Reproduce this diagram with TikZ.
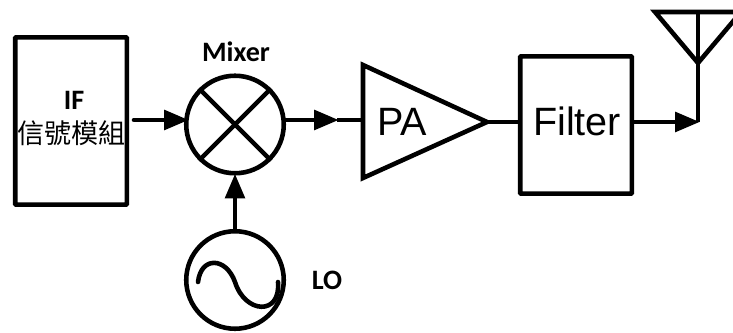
\documentclass[tikz,border=0pt]{standalone}
\usepackage{fontspec}
\setmainfont{Liberation Sans}
\newfontfamily\labelfont{Carlito}
\newfontfamily\cjkfont{Noto Sans CJK TC}
\usetikzlibrary{arrows.meta}
\tikzset{
    wire/.style={line width=2.6pt},
    sig/.style={wire,-{Triangle[length=14pt,width=11pt]},shorten >=-1pt},
    block/.style={draw,line width=2.6pt,rectangle,rounded corners=0.5pt,inner sep=0pt},
    round/.style={draw,line width=2.6pt,circle,minimum size=55.5pt,inner sep=0pt},
    tag/.style={font=\labelfont\bfseries\fontsize{16}{18}\selectfont},
    big/.style={font=\fontsize{22.5}{26}\selectfont}
}
\begin{document}
\begin{tikzpicture}[x=0.02cm,y=-0.02cm]
    \useasboundingbox (0,0) rectangle (733,333);
    \node[block,minimum width=63.5pt,minimum height=95.2pt] (IF) at (71,121) {};
    \node[round] (M) at (235,124.5) {};
    \node[round] (LO) at (235,280) {};
    \node[block,minimum width=63.5pt,minimum height=78.2pt] (F) at (576,125) {};
    \draw[wire] (M.45) -- (M.225);
    \draw[wire] (M.135) -- (M.315);
    \draw[wire,line cap=round] (198,282) .. controls (201,256) and (226,257) .. (235,282)
        .. controls (245,314) and (281,316) .. (278,282);
    % amplifier and antenna
    \coordinate (a1) at (363,65);
    \coordinate (a2) at (363,178);
    \coordinate (a3) at (487,122);
    \draw[wire,miter limit=10] (a1) -- (a3) -- (a2) -- cycle;
    \coordinate (t1) at (655,12);
    \coordinate (t2) at (741,12);
    \coordinate (t3) at (698,63);
    \draw[wire] (t1) -- (t3) -- (t2) -- cycle;
    \draw[wire] (698,12) -- (t3);
    % text
    \node[tag] (ifname) at (74,100) {IF};
    \node[font=\cjkfont\fontsize{15.4}{18}\selectfont,inner sep=0pt] (ifcn) at (71.5,133) {信號模組};
    \node[tag] (mixname) at (236,52) {Mixer};
    \node[tag] (loname) at (327,280) {LO};
    \node[big] (paname) at (402,122) {PA};
    \node[big] (fname) at (577,121) {Filter};
    % connectors
    \coordinate (s0) at (134,120);
    \coordinate (s1) at (187,120);
    \coordinate (s2) at (284,120);
    \coordinate (s3) at (337,120);
    \coordinate (s4) at (363,120);
    \coordinate (s5) at (632,122);
    \coordinate (s6) at (698,122);
    \draw[sig,line cap=round] (s0) -- (s1);
    \draw[sig] (s2) -- (s3);
    \draw[wire] (s3) -- (s4);
    \draw[sig] (LO.north) -- (M.south);
    \draw[wire] (a3) -- (F.west |- a3);
    \draw[sig] (s5) -- (s6);
    \draw[wire] (t3) -- (s6);
\end{tikzpicture}
\end{document}
